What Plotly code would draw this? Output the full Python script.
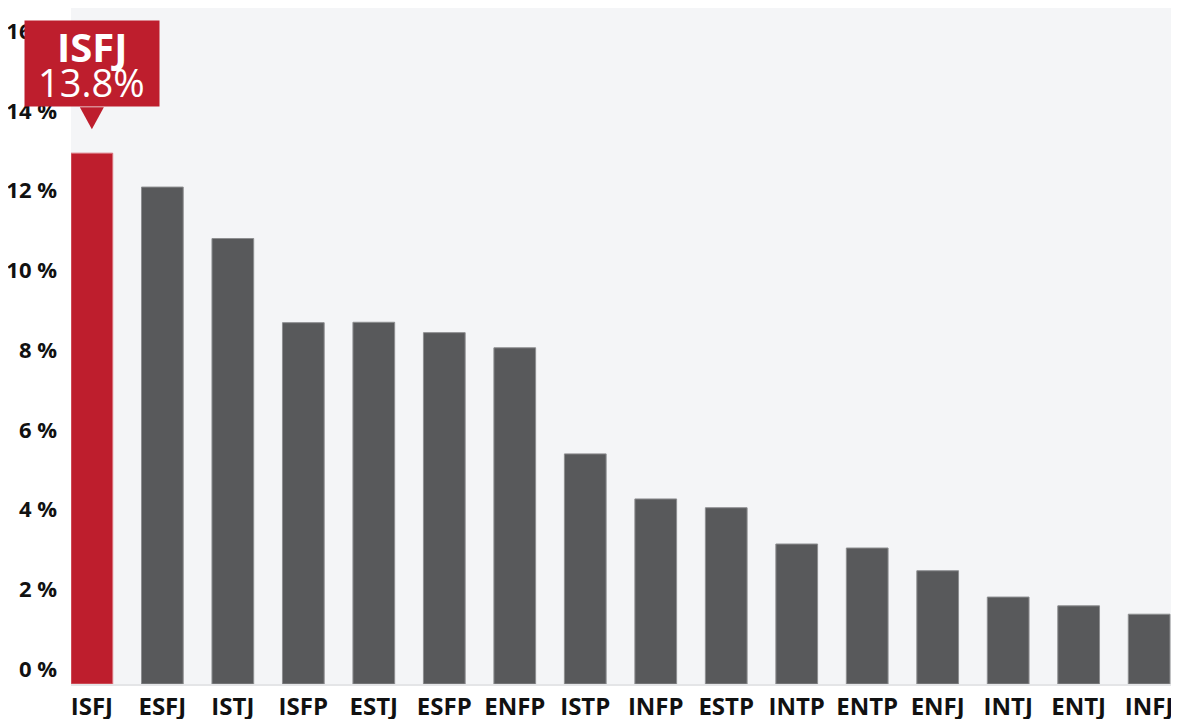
import plotly.graph_objects as go

# personality types, share of population (read against the y axis)
types = ["ISFJ", "ESFJ", "ISTJ", "ISFP", "ESTJ", "ESFP", "ENFP", "ISTP",
         "INFP", "ESTP", "INTP", "ENTP", "ENFJ", "INTJ", "ENTJ", "INFJ"]
share = [12.94, 12.09, 10.80, 8.69, 8.70, 8.44, 8.06, 5.40,
         4.27, 4.05, 3.14, 3.04, 2.47, 1.81, 1.59, 1.38]

tick_vals = [0, 2, 4, 6, 8, 10, 12, 14, 16]
tick_text = ["0 %", "2 %", "4 %", "6 %", "8 %", "10 %", "12 %", "14 %", "16 %"]

callout_type = "ISFJ"
callout_label = "13.8%"

RED = "#be1e2d"
GREY = "#58595b"
base = -0.37  # bars sit a little below the 0 % label

colors = [RED if t == callout_type else GREY for t in types]
edges = ["#d9737b" if t == callout_type else "#8d8e90" for t in types]

fig = go.Figure()
fig.add_trace(go.Bar(
    x=types, y=[v - base for v in share], base=base,
    marker=dict(color=colors, line=dict(color=edges, width=1)),
    hoverinfo="skip",
))

top = share[types.index(callout_type)]

# pointer triangle under the callout box
fig.add_shape(type="path", xref="x", yref="y", xsizemode="pixel", ysizemode="pixel",
              xanchor=callout_type, yanchor=top,
              path="M -12,46 L 12,46 L 0,24 Z",
              fillcolor=RED, line=dict(width=0), layer="above")

# callout box and its two text lines
fig.add_annotation(x=callout_type, y=top, xref="x", yref="y", showarrow=False,
                   text=" ", width=134, height=85, bgcolor=RED, borderpad=0,
                   xanchor="center", yanchor="bottom", yshift=46)
fig.add_annotation(x=callout_type, y=top, xref="x", yref="y", showarrow=False,
                   text="ISFJ", font=dict(family="Open Sans", size=40, color="white", weight="bold"),
                   xanchor="center", yanchor="middle", yshift=107)
fig.add_annotation(x=callout_type, y=top, xref="x", yref="y", showarrow=False,
                   text=callout_label, font=dict(family="Open Sans", size=38, color="white"),
                   xanchor="center", yanchor="middle", yshift=71)

# page body keeps an 8px margin, so the figure is made smaller to fit
fig.update_layout(
    width=1163, height=711,
    margin=dict(l=63, r=0, t=0, b=35),
    paper_bgcolor="white", plot_bgcolor="#f4f5f7",
    bargap=0.408, showlegend=False,
    font=dict(family="Open Sans", color="#111111"),
)
fig.update_xaxes(
    type="category", range=[-0.296, 15.31], automargin=False,
    showline=True, linecolor="#e4e5e7", linewidth=2, mirror=True,
    showgrid=False, ticks="", zeroline=False,
    tickfont=dict(family="Open Sans", size=24, weight="bold", color="#111111"),
)
fig.update_yaxes(
    range=[base, 16.58], tickvals=tick_vals, ticktext=tick_text, automargin=False,
    showgrid=False, zeroline=False, showline=False, ticks="",
    ticklabelstandoff=13, ticklabeloverflow="allow",
    tickfont=dict(family="Open Sans", size=22, weight="bold", color="#111111"),
)

fig.write_html("out.html")
